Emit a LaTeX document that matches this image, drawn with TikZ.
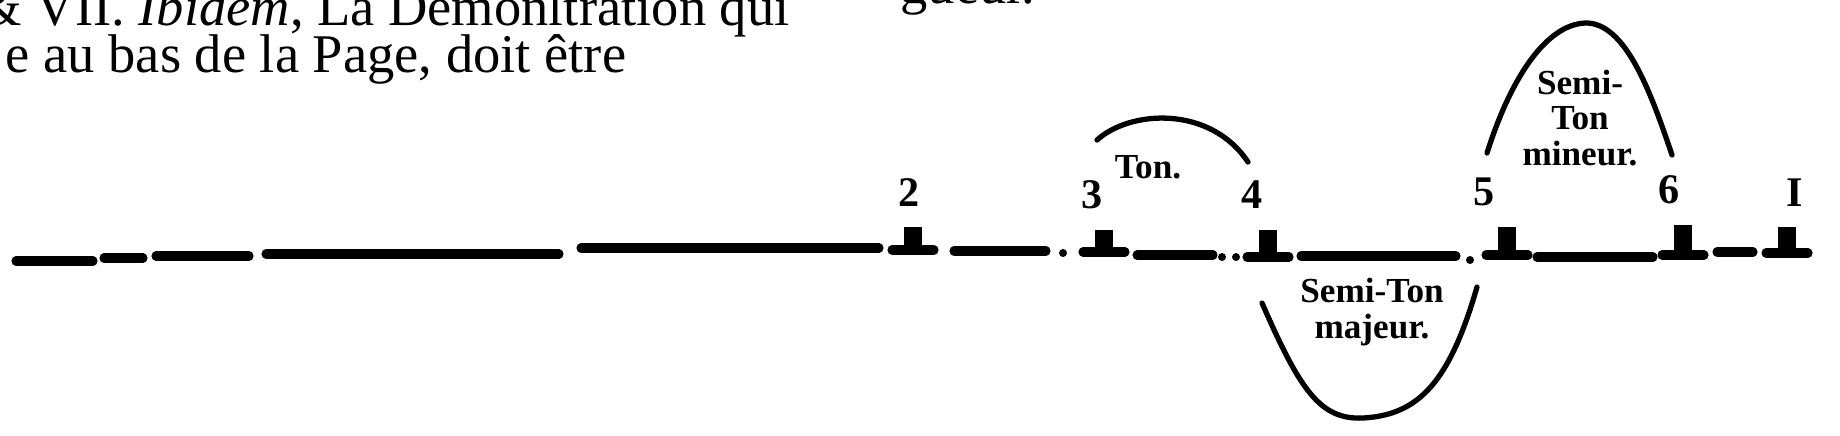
\documentclass[tikz,border=0pt]{standalone}
\usepackage{fontspec}
\setmainfont{Liberation Serif}

\begin{document}
\begin{tikzpicture}[
        x=0.01cm, y=-0.01cm,
        staff/.style={line width=2.6pt, line cap=round},
        slur/.style={line width=1.5pt, line cap=round},
        num/.style={anchor=north, inner sep=0pt, font=\fontsize{12}{12}\selectfont\bfseries},
        small/.style={align=center, inner sep=0pt, font=\fontsize{10}{10.2}\selectfont\bfseries},
        body/.style={anchor=base west, inner sep=0pt, font=\fontsize{15.5}{15.5}\selectfont}
        ]
            \useasboundingbox (0, 0) rectangle (1840, 435);
            %\draw[lightgray, step=100] (0, 0) grid (1840, 435);

            % lines of the page
            \node[body] (line1) at (-21, 25) {\& VII. \textit{Ibidem}, La Demonſtration qui};
            \node[body] (line2) at (5, 72) {e au bas de la Page, doit être};
            \node[body] (line3) at (900, 3) {gueur.};

            % the staff
            \foreach \a/\b/\y in {16/93/261, 104/143/258, 156/249/256, 266/559/254,
                    581/879/248, 954/1046/251, 1137/1213/255, 1301/1456/256,
                    1537/1653/257, 1717/1753/252}
                \draw[staff] (\a, \y) -- (\b, \y);
            \foreach \x/\y in {1063/253, 1222/257, 1236/257, 1470/260}
                \fill (\x, \y) circle (4);

            % the marks with their numbers
            \foreach \n/\c/\top/\fy/\nx/\ny in {2/913/227/250/909/178, 3/1104/230/252/1092/180,
                    4/1268/230/257/1252/180, 5/1507/227/255/1484/177,
                    6/1683/225/255/1669/175, I/1787/227/253/1795/178}
            {
                \coordinate (t\n) at (\c, \fy);
                \fill (\c-9, \top) rectangle (\c+9, \fy);
                \draw[staff] (\c-21, \fy) -- (\c+21, \fy);
                \node[num] (n\n) at (\nx, \ny) {\n};
            }

            % the intervals
            \draw[slur] (1097, 140) .. controls (1130, 110) and (1210, 105) .. (1248, 162);
            \node[small] (ton) at (1148, 167) {Ton.};

            \draw[slur] (1262, 303) .. controls (1300, 390) and (1320, 420) .. (1363, 418)
                .. controls (1420, 415) and (1450, 380) .. (1477, 287);
            \node[small] (majeur) at (1372, 312) {Semi-Ton\\majeur.};

            \draw[slur] (1487, 153) .. controls (1510, 80) and (1545, 25) .. (1585, 23)
                .. controls (1625, 22) and (1650, 90) .. (1672, 155);
            \node[small] (mineur) at (1580, 118) {Semi-\\Ton\\mineur.};
        \end{tikzpicture}
\end{document}
